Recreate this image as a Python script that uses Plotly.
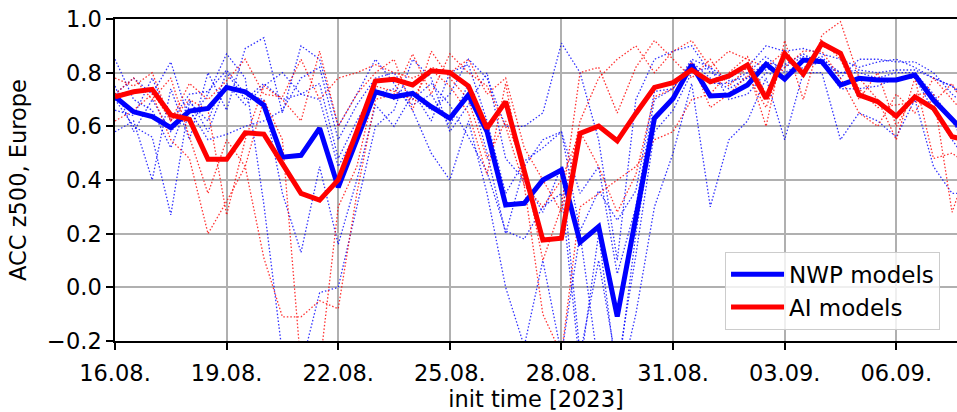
import pandas as pd
import plotly.graph_objects as go

# ---------------- data (12-hourly init times, starting 16.08.2023 00 UTC) ----------------
start_time = "2023-08-16 00:00"
n_steps = 47

nwp_mean = [0.710, 0.654, 0.636, 0.595, 0.657, 0.667, 0.745, 0.729, 0.679, 0.485,
            0.492, 0.593, 0.373, 0.550, 0.729, 0.710, 0.723, 0.673, 0.630, 0.717,
            0.580, 0.307, 0.313, 0.400, 0.437, 0.168, 0.226, -0.109, 0.263, 0.630,
            0.704, 0.829, 0.713, 0.717, 0.754, 0.832, 0.776, 0.847, 0.841, 0.754,
            0.779, 0.773, 0.773, 0.791, 0.698, 0.624, 0.555]

ai_mean = [0.710, 0.729, 0.738, 0.642, 0.626, 0.477, 0.477, 0.576, 0.571, 0.462,
           0.350, 0.325, 0.400, 0.580, 0.769, 0.775, 0.754, 0.807, 0.801, 0.750,
           0.593, 0.692, 0.431, 0.176, 0.183, 0.574, 0.601, 0.546, 0.648, 0.745,
           0.763, 0.810, 0.766, 0.788, 0.829, 0.704, 0.870, 0.795, 0.909, 0.872,
           0.717, 0.692, 0.638, 0.710, 0.667, 0.561, 0.545]

nwp1 = [0.85, 0.70, 0.66, 0.52, 0.70, 0.58, 0.76, 0.68, 0.75, 0.80, 0.72, 0.76, 0.48, 0.62, 0.74, 0.70,
        0.73, 0.62, 0.80, 0.83, 0.62, 0.35, 0.47, 0.52, 0.58, 0.21, 0.36, 0.25, 0.36, 0.73, 0.74, 0.85,
        0.82, 0.77, 0.78, 0.81, 0.83, 0.87, 0.83, 0.80, 0.81, 0.80, 0.81, 0.81, 0.78, 0.75, 0.67]
nwp2 = [0.72, 0.78, 0.72, 0.84, 0.62, 0.72, 0.87, 0.78, 0.31, -0.25, -0.30, -0.02, 0.00, 0.30, 0.60, 0.66,
        0.85, 0.78, 0.58, 0.68, 0.80, 0.48, 0.40, 0.28, 0.45, -0.25, 0.10, -0.30, 0.12, 0.58, 0.66, 0.80,
        0.82, 0.70, 0.72, 0.80, 0.78, 0.82, 0.84, 0.74, 0.74, 0.75, 0.78, 0.78, 0.66, 0.55, 0.45]
nwp3 = [0.58, 0.62, 0.40, 0.74, 0.55, 0.80, 0.66, 0.89, 0.93, 0.65, 0.90, 0.85, 0.60, 0.72, 0.85, 0.76,
        0.66, 0.50, 0.40, 0.62, 0.35, 0.00, -0.22, 0.10, -0.25, 0.20, -0.30, -0.40, -0.10, 0.30, 0.50, 0.76,
        0.30, 0.55, 0.62, 0.78, 0.55, 0.80, 0.80, 0.55, 0.65, 0.62, 0.56, 0.70, 0.45, 0.35, 0.35]
nwp4 = [0.75, 0.58, 0.70, 0.58, 0.66, 0.55, 0.57, 0.60, 0.62, 0.66, 0.78, 0.82, 0.55, 0.68, 0.78, 0.80,
        0.70, 0.76, 0.68, 0.56, 0.43, 0.21, 0.18, 0.30, 0.35, -0.30, 0.20, -0.35, 0.20, 0.62, 0.70, 0.82,
        0.76, 0.76, 0.80, 0.86, 0.80, 0.84, 0.86, 0.78, 0.85, 0.85, 0.84, 0.84, 0.80, 0.72, 0.66]
nwp5 = [0.66, 0.64, 0.78, 0.62, 0.72, 0.73, 0.81, 0.72, 0.70, 0.35, 0.13, 0.45, 0.16, 0.40, 0.68, 0.60,
        0.72, 0.66, 0.72, 0.85, 0.78, 0.60, 0.60, 0.65, 0.91, 0.80, 0.55, 0.10, 0.70, 0.85, 0.88, 0.90,
        0.80, 0.78, 0.82, 0.90, 0.88, 0.89, 0.87, 0.85, 0.82, 0.84, 0.85, 0.82, 0.78, 0.75, 0.70]
nwp6 = [0.70, 0.60, 0.56, 0.27, 0.69, 0.62, 0.80, 0.70, 0.76, 0.70, 0.72, 0.70, 0.45, 0.58, 0.72, 0.74,
        0.68, 0.72, 0.60, 0.76, 0.50, 0.20, 0.45, 0.55, 0.58, 0.35, 0.45, 0.05, 0.30, 0.70, 0.74, 0.84,
        0.78, 0.74, 0.78, 0.84, 0.82, 0.86, 0.85, 0.80, 0.80, 0.78, 0.80, 0.80, 0.72, 0.62, 0.50]

ai1 = [0.78, 0.75, 0.80, 0.62, 0.70, 0.66, 0.27, 0.55, 0.75, 0.70, 0.62, 0.88, 0.60, 0.72, 0.80, 0.85,
       0.66, 0.88, 0.78, 0.70, 0.48, 0.62, 0.45, 0.10, 0.30, 0.80, 0.82, 0.65, 0.82, 0.92, 0.85, 0.78,
       0.85, 0.75, 0.82, 0.60, 0.92, 0.70, 0.94, 0.99, 0.78, 0.70, 0.55, 0.78, 0.48, 0.50, 0.45]
ai2 = [0.72, 0.78, 0.70, 0.78, 0.56, 0.35, 0.55, 0.45, 0.11, -0.11, -0.11, -0.05, -0.08, 0.35, 0.70, 0.72,
       0.87, 0.72, 0.87, 0.80, 0.75, 0.60, 0.38, -0.10, -0.25, 0.30, 0.35, 0.40, 0.45, 0.55, 0.58, 0.70,
       0.72, 0.80, 0.86, 0.72, 0.82, 0.88, 0.88, 0.78, 0.65, 0.60, 0.72, 0.65, 0.78, 0.70, 0.62]
ai3 = [0.62, 0.66, 0.72, 0.55, 0.48, 0.20, 0.32, 0.45, 0.70, 0.55, -0.30, -0.30, 0.30, 0.45, 0.75, 0.73,
       0.70, 0.82, 0.80, 0.85, 0.72, 0.78, 0.52, 0.40, 0.28, 0.62, 0.78, 0.85, 0.90, 0.80, 0.88, 0.92,
       0.82, 0.88, 0.85, 0.82, 0.88, 0.80, 0.92, 0.85, 0.70, 0.80, 0.60, 0.72, 0.72, 0.28, 0.48]
ai4 = [0.72, 0.73, 0.73, 0.62, 0.76, 0.70, 0.77, 0.85, 0.72, 0.71, 0.85, 0.70, 0.78, 0.80, 0.83, 0.80,
       0.78, 0.81, 0.75, 0.65, 0.42, 0.76, 0.38, 0.30, 0.40, 0.58, 0.45, 0.28, 0.42, 0.71, 0.74, 0.84,
       0.67, 0.72, 0.79, 0.67, 0.86, 0.80, 0.90, 0.87, 0.74, 0.67, 0.68, 0.69, 0.69, 0.76, 0.63]

nwp_models = [nwp1, nwp2, nwp3, nwp4, nwp5, nwp6]
ai_models = [ai1, ai2, ai3, ai4]

y_tick_values = [-0.2, 0.0, 0.2, 0.4, 0.6, 0.8, 1.0]
y_tick_labels = ["\u22120.2", "0.0", "0.2", "0.4", "0.6", "0.8", "1.0"]

# ---------------- figure ----------------
times = pd.date_range(start_time, periods=n_steps, freq="12h")

FONT = "DejaVu Sans"
FS = 22.5
BLUE = "#0000ff"
RED = "#ff0000"

fig = go.Figure()

for series in nwp_models:
    fig.add_trace(go.Scatter(
        x=times[:len(series)], y=series, mode="lines",
        line=dict(color=BLUE, width=1.3, dash="1.5px,2px"),
        opacity=0.8, showlegend=False, hoverinfo="skip"))

for series in ai_models:
    fig.add_trace(go.Scatter(
        x=times[:len(series)], y=series, mode="lines",
        line=dict(color=RED, width=1.3, dash="1.5px,2px"),
        opacity=0.8, showlegend=False, hoverinfo="skip"))

fig.add_trace(go.Scatter(x=times[:len(nwp_mean)], y=nwp_mean, mode="lines",
                         line=dict(color=BLUE, width=5), name="NWP models"))
fig.add_trace(go.Scatter(x=times[:len(ai_mean)], y=ai_mean, mode="lines",
                         line=dict(color=RED, width=5), name="AI models"))

fig.update_layout(
    width=957, height=412,
    margin=dict(l=115, r=0, t=19, b=71, autoexpand=False),
    paper_bgcolor="white", plot_bgcolor="white",
    font=dict(family=FONT, size=FS, color="black"),
    showlegend=True,
    legend=dict(
        x=0.7245, y=0.035, xanchor="left", yanchor="bottom",
        bgcolor="rgba(255,255,255,0.8)", bordercolor="#cccccc", borderwidth=1,
        font=dict(family=FONT, size=23, color="black"),
        itemwidth=53, tracegroupgap=0,
    ),
)

fig.update_xaxes(
    type="date", automargin=False,
    range=["2023-08-16 00:00", "2023-09-07 15:10"],
    tick0="2023-08-16", dtick=3 * 86400000, tickformat="%d.%m.",
    ticks="outside", ticklen=7, tickwidth=1.5, tickcolor="black",
    ticklabelstandoff=4,
    showline=True, linecolor="black", linewidth=1.5, mirror=True,
    showgrid=True, gridcolor="#b0b0b0", gridwidth=1.5,
    zeroline=False,
    title=dict(text="init time [2023]", standoff=9, font=dict(family=FONT, size=FS)),
    tickfont=dict(family=FONT, size=FS),
)

fig.update_yaxes(
    automargin=False,
    range=[-0.2, 1.0],
    tickvals=y_tick_values, ticktext=y_tick_labels,
    ticks="outside", ticklen=7, tickwidth=1.5, tickcolor="black",
    showline=True, linecolor="black", linewidth=1.5,
    showgrid=True, gridcolor="#b0b0b0", gridwidth=1.5,
    zeroline=False,
    title=dict(text="ACC z500, Europe", standoff=14, font=dict(family=FONT, size=FS)),
    tickfont=dict(family=FONT, size=FS),
)

fig.write_html("out.html",
               config={"displayModeBar": False},
               post_script="document.body.style.margin='0';document.body.style.overflow='hidden';")
